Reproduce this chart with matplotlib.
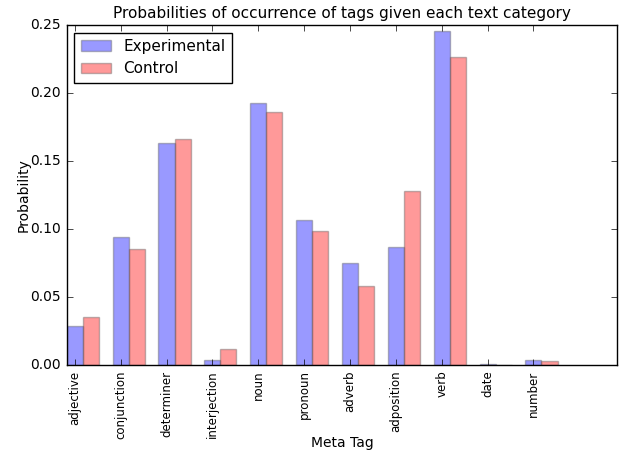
import numpy as np
import matplotlib
matplotlib.use("Agg")
import matplotlib.pyplot as plt

tags = ["adjective", "conjunction", "determiner", "interjection", "noun",
        "pronoun", "adverb", "adposition", "verb", "date", "number"]
experimental = [0.0286, 0.0939, 0.1634, 0.0034, 0.1928, 0.1066, 0.0747,
                0.0869, 0.2453, 0.0006, 0.0035]
control = [0.0356, 0.0852, 0.1660, 0.0119, 0.1862, 0.0983, 0.0584,
           0.1280, 0.2263, 0.0000, 0.0027]

plt.style.use("classic")
plt.rcParams["figure.facecolor"] = "white"

fig, ax = plt.subplots(figsize=(6.24, 4.55), dpi=100)

index = np.arange(len(tags))
bar_width = 0.35
opacity = 0.4

ax.bar(index, experimental, bar_width, align="edge", alpha=opacity,
       color="b", edgecolor="0.35", label="Experimental")
ax.bar(index + bar_width, control, bar_width, align="edge", alpha=opacity,
       color="r", edgecolor="0.35", label="Control")

ax.set_xlim(0, 12)
ax.set_ylim(0, 0.25)
ax.set_xticks(index + bar_width / 2)
ax.set_xticklabels(tags, rotation=90, fontsize=8.5)
ax.tick_params(axis="y", labelsize=10)
ax.set_xlabel("Meta Tag", fontsize=10, labelpad=-2)
ax.set_ylabel("Probability", fontsize=10, labelpad=0)
ax.set_title("Probabilities of occurrence of tags given each text category",
             fontsize=11)
ax.legend(loc="upper left", fontsize=11)

fig.subplots_adjust(left=0.107, right=0.989, top=0.945, bottom=0.198)
fig.savefig("out.png", dpi=100)
